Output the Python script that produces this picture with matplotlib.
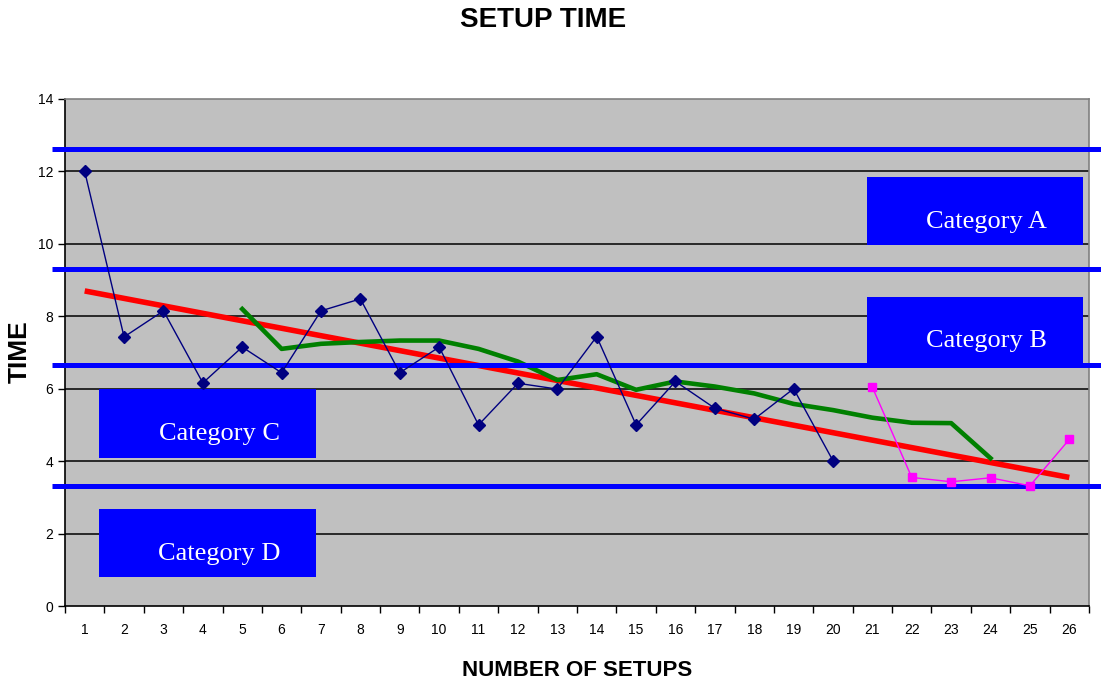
import matplotlib.pyplot as plt
from matplotlib.patches import Rectangle

# data
setups = list(range(1, 27))
time_x = list(range(1, 21))
time_vals = [12.0, 7.43, 8.15, 6.16, 7.15, 6.44, 8.15, 8.48, 6.44, 7.15,
             5.0, 6.15, 5.99, 7.44, 5.0, 6.2, 5.46, 5.16, 6.0, 4.01]
new_x = [21, 22, 23, 24, 25, 26]
new_vals = [6.04, 3.55, 3.43, 3.54, 3.32, 4.6]
avg_x = list(range(5, 25))
avg_vals = [8.2, 7.1, 7.24, 7.29, 7.33, 7.33, 7.1, 6.75, 6.24, 6.4,
            5.97, 6.2, 6.06, 5.87, 5.58, 5.41, 5.2, 5.06, 5.05, 4.08]
trend_x = [1, 26]
trend_vals = [8.7, 3.55]
limits = [12.62, 9.31, 6.66, 3.31]
categories = ['Category A', 'Category B', 'Category C', 'Category D']
cat_boxes = [(20.86, 9.97, 5.48, 1.88), (20.86, 6.69, 5.48, 1.85),
             (1.36, 4.09, 5.51, 1.90), (1.36, 0.80, 5.51, 1.88)]

plt.rcParams['font.family'] = ['Liberation Sans', 'DejaVu Sans']

fig = plt.figure(figsize=(11.01, 6.85), dpi=100)
ax = fig.add_axes([65 / 1101, 1 - 606 / 685, 1024 / 1101, 507 / 685])
ax.set_facecolor('#C0C0C0')

ax.set_xlim(0.5, 26.5)
ax.set_ylim(0, 14)

# grid
for y in range(2, 14, 2):
    ax.axhline(y, color='black', lw=1.1, zorder=1)

# category boxes
for (x0, y0, w, h), name in zip(cat_boxes, categories):
    ax.add_patch(Rectangle((x0, y0), w, h, facecolor='#0000FF', edgecolor='none', zorder=2))
    ax.text(x0 + w / 2 + 0.3, y0 + h / 2 - 0.3, name, color='white', fontsize=19,
            family='Liberation Serif', ha='center', va='center', zorder=2.5)

# trend and moving average
ax.plot(trend_x, trend_vals, color='#FF0000', lw=4.0, zorder=3, solid_capstyle='butt')
ax.plot(avg_x, avg_vals, color='#008000', lw=3.3, zorder=3.5)

# limit lines
tr = ax.get_yaxis_transform()
for y in limits:
    ax.plot([-13 / 1024, 1036 / 1024], [y, y], color='#0000FF', lw=3.6,
            transform=tr, clip_on=False, zorder=5, solid_capstyle='butt')

# data series
ax.plot(time_x, time_vals, color='#000080', lw=1.0, marker='D', ms=6, zorder=6)
ax.plot(new_x, new_vals, color='#FF00FF', lw=1.0, marker='s', ms=6, zorder=6)

# axes styling
ax.set_yticks(range(0, 15, 2))
ax.set_xticks([i + 0.5 for i in range(0, 27)])
ax.set_xticklabels([])
ax.set_xticks(setups, minor=True)
ax.set_xticklabels([str(s) for s in setups], minor=True)
ax.tick_params(axis='x', which='major', length=5, width=1, direction='out')
ax.tick_params(axis='x', which='minor', length=0, pad=12, labelsize=10)
ax.tick_params(axis='y', length=5, width=1, labelsize=10)
for s in ['left', 'bottom']:
    ax.spines[s].set_color('black')
    ax.spines[s].set_linewidth(1.2)
for s in ['top', 'right']:
    ax.spines[s].set_color('#808080')
    ax.spines[s].set_linewidth(1.2)

fig.text(577 / 1101, 1 - 670 / 685, 'NUMBER OF SETUPS', fontsize=16, fontweight='bold',
         ha='center', va='center')
fig.text(20 / 1101, 1 - 352 / 685, 'TIME', fontsize=19, fontweight='bold',
         rotation=90, ha='center', va='center')
fig.text(543 / 1101, 1 - 20 / 685, 'SETUP TIME', fontsize=20, fontweight='bold',
         ha='center', va='center')

fig.savefig('out.png', dpi=100)
